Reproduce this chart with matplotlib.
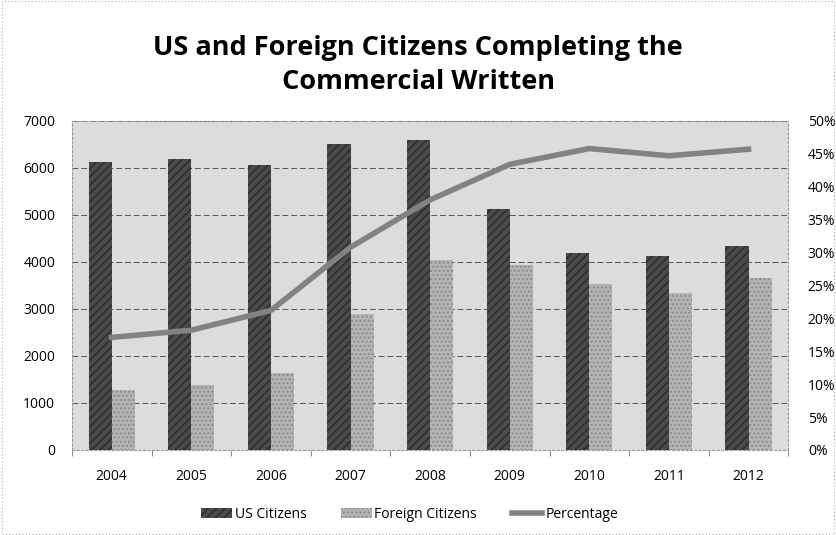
import numpy as np
from matplotlib import pyplot as plt
from matplotlib.patches import Rectangle

years = ['2004', '2005', '2006', '2007', '2008', '2009', '2010', '2011', '2012']
us_citizens = [6120, 6190, 6070, 6510, 6590, 5120, 4190, 4125, 4340]
foreign_citizens = [1270, 1380, 1630, 2900, 4050, 3930, 3540, 3330, 3650]
percentage = [17.1, 18.2, 21.2, 30.8, 38.0, 43.4, 45.8, 44.7, 45.7]

plt.rcParams['font.family'] = ['Open Sans', 'DejaVu Sans']

fig = plt.figure(figsize=(8.36, 5.35), dpi=100)
ax = fig.add_axes([0.086, 0.159, 0.857, 0.615])
ax.set_facecolor('#dcdcdc')

x = np.arange(len(years))
w = 0.29
ax.bar(x - w / 2, us_citizens, w, color='#4a4a4a', hatch='////', edgecolor='#2a2a2a',
       linewidth=0, label='US Citizens', zorder=3)
ax.bar(x + w / 2, foreign_citizens, w, color='#b4b4b4', hatch='....', edgecolor='#8a8a8a',
       linewidth=0, label='Foreign Citizens', zorder=3)

ax.set_xlim(-0.5, len(years) - 0.5)
ax.set_ylim(0, 7000)
ax.set_yticks(range(0, 7001, 1000))
ax.set_xticks(x)
ax.set_xticklabels(years)
ax.set_xticks(np.arange(-0.5, len(years), 1), minor=True)
ax.tick_params(axis='x', which='major', length=0, pad=14, labelsize=10)
ax.tick_params(axis='x', which='minor', length=4, color='#777777')
ax.tick_params(axis='y', length=0, pad=12, labelsize=10)
ax.grid(axis='y', color='#555555', linestyle=(0, (6, 3)), linewidth=0.7, zorder=1)
for s in ax.spines.values():
    s.set_color('#999999')
    s.set_linestyle((0, (2, 2)))
    s.set_linewidth(0.8)

ax2 = ax.twinx()
ax2.plot(x, percentage, color='#828282', linewidth=4, label='Percentage', zorder=4)
ax2.set_ylim(0, 50)
ax2.set_yticks(range(0, 51, 5))
ax2.set_yticklabels([f'{v}%' for v in range(0, 51, 5)])
ax2.tick_params(axis='y', length=0, pad=14, labelsize=10)
for s in ax2.spines.values():
    s.set_visible(False)

fig.text(0.5, 0.879, 'US and Foreign Citizens Completing the\nCommercial Written',
         ha='center', va='center', fontsize=19.5, fontweight='bold', linespacing=1.4)

h1, l1 = ax.get_legend_handles_labels()
h2, l2 = ax2.get_legend_handles_labels()
fig.legend(h1 + h2, l1 + l2, loc='center', bbox_to_anchor=(0.49, 0.038), ncol=3,
           frameon=False, fontsize=10, handlelength=2.2, handletextpad=0.2,
           columnspacing=2.5)

fig.patches.append(Rectangle((0.002, 0.002), 0.996, 0.996, transform=fig.transFigure,
                             fill=False, edgecolor='#aaaaaa', linestyle=(0, (1, 2)),
                             linewidth=0.8))

plt.savefig('out.png', dpi=100)
